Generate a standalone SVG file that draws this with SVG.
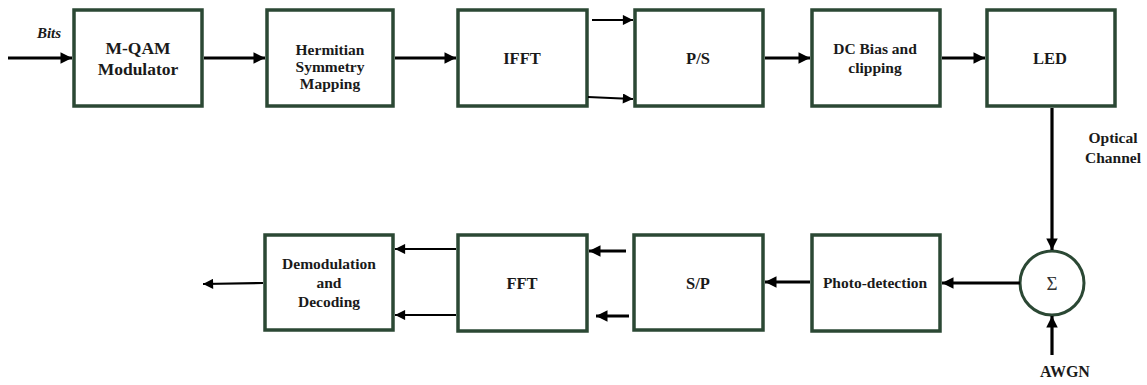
<svg xmlns="http://www.w3.org/2000/svg" width="1147" height="385" viewBox="0 0 1147 385">
  <style>
    .box { fill: #ffffff; stroke: #2b4834; stroke-width: 3.5; }
    .lbl { font-family: "Liberation Serif", "DejaVu Serif", "Noto Serif", serif; font-weight: bold; fill: #1a1a1a; text-anchor: middle; }
    .big { font-size: 17.5px; }
    .mid { font-size: 16.5px; }
    .sm { font-size: 15.5px; }
    .thick { stroke: #000; stroke-width: 3.2; fill: none; }
    .thin { stroke: #000; stroke-width: 2.2; fill: none; }
  </style>
  <defs>
    <marker id="ah" viewBox="0 0 10 10" refX="10" refY="5" markerWidth="3.6" markerHeight="3.6" markerUnits="strokeWidth" orient="auto">
      <path d="M0,0 L10,5 L0,10 z" fill="#000"/>
    </marker>
    <marker id="ahs" viewBox="0 0 10 10" refX="10" refY="5" markerWidth="5" markerHeight="4.6" markerUnits="strokeWidth" orient="auto">
      <path d="M0,0 L10,5 L0,10 z" fill="#000"/>
    </marker>
  </defs>
  <rect width="1147" height="385" fill="#ffffff"/>

  <!-- transmitter chain -->
  <g id="mqam">
    <rect class="box" x="74" y="10" width="128" height="96"/>
    <text class="lbl big" x="138" y="54">M-QAM</text>
    <text class="lbl big" x="138" y="75">Modulator</text>
  </g>
  <g id="hermitian">
    <rect class="box" x="267" y="10" width="126" height="96"/>
    <text class="lbl sm" x="330" y="55">Hermitian</text>
    <text class="lbl sm" x="330" y="72">Symmetry</text>
    <text class="lbl sm" x="330" y="89">Mapping</text>
  </g>
  <g id="ifft">
    <rect class="box" x="458" y="10" width="129" height="96"/>
    <text class="lbl mid" x="522" y="64">IFFT</text>
  </g>
  <g id="ps">
    <rect class="box" x="635" y="10" width="128" height="96"/>
    <text class="lbl mid" x="698" y="64">P/S</text>
  </g>
  <g id="dcbias">
    <rect class="box" x="812" y="10" width="128" height="96"/>
    <text class="lbl sm" x="875" y="54">DC Bias and</text>
    <text class="lbl sm" x="875" y="73">clipping</text>
  </g>
  <g id="led">
    <rect class="box" x="987" y="10" width="128" height="96"/>
    <text class="lbl mid" x="1050" y="64">LED</text>
  </g>

  <!-- channel and noise -->
  <g id="sum">
    <circle cx="1052" cy="283" r="32" fill="#ffffff" stroke="#2b4834" stroke-width="3"/>
    <text x="1052" y="290" font-family="'Liberation Serif', 'DejaVu Serif', serif" font-size="19" fill="#333" text-anchor="middle">Σ</text>
  </g>
  <g id="labels">
    <text x="49" y="38" font-family="'Liberation Serif', 'DejaVu Serif', serif" font-size="15" font-weight="bold" font-style="italic" fill="#1a1a1a" text-anchor="middle">Bits</text>
    <text class="lbl sm" x="1113" y="143">Optical</text>
    <text class="lbl sm" x="1113" y="163">Channel</text>
    <text class="lbl sm" x="1065" y="377" style="font-size:16px">AWGN</text>
  </g>

  <!-- receiver chain -->
  <g id="photodetection">
    <rect class="box" x="812" y="235" width="128" height="96"/>
    <text class="lbl sm" x="875" y="288">Photo-detection</text>
  </g>
  <g id="sp">
    <rect class="box" x="634" y="235" width="129" height="95"/>
    <text class="lbl mid" x="698" y="289">S/P</text>
  </g>
  <g id="fft">
    <rect class="box" x="458" y="235" width="129" height="96"/>
    <text class="lbl mid" x="522" y="289">FFT</text>
  </g>
  <g id="demod">
    <rect class="box" x="265" y="235" width="128" height="95"/>
    <text class="lbl sm" x="329" y="269">Demodulation</text>
    <text class="lbl sm" x="329" y="288">and</text>
    <text class="lbl sm" x="329" y="307">Decoding</text>
  </g>

  <!-- connectors -->
  <g id="connectors">
    <line class="thick" x1="8" y1="58" x2="72" y2="58" marker-end="url(#ah)"/>
    <line class="thick" x1="204" y1="58" x2="265" y2="58" marker-end="url(#ah)"/>
    <line class="thick" x1="395" y1="58" x2="456" y2="58" marker-end="url(#ah)"/>
    <line class="thin" x1="592" y1="20" x2="633" y2="20" marker-end="url(#ahs)"/>
    <line class="thin" x1="588" y1="97" x2="633" y2="99" marker-end="url(#ahs)"/>
    <line class="thick" x1="765" y1="58" x2="810" y2="58" marker-end="url(#ah)"/>
    <line class="thick" x1="942" y1="58" x2="985" y2="58" marker-end="url(#ah)"/>
    <line class="thick" x1="1052" y1="108" x2="1052" y2="250" marker-end="url(#ah)"/>
    <line class="thick" x1="1052" y1="355" x2="1052" y2="316" marker-end="url(#ah)"/>
    <line class="thick" x1="1020" y1="283" x2="942" y2="283" marker-end="url(#ah)"/>
    <line class="thick" x1="810" y1="282" x2="765" y2="282" marker-end="url(#ah)"/>
    <line class="thick" x1="626" y1="251" x2="589" y2="251" marker-end="url(#ah)"/>
    <line class="thick" x1="629" y1="316" x2="596" y2="316" marker-end="url(#ah)"/>
    <line class="thin" x1="456" y1="249" x2="395" y2="249" marker-end="url(#ahs)"/>
    <line class="thin" x1="456" y1="315" x2="395" y2="315" marker-end="url(#ahs)"/>
    <line class="thin" x1="263" y1="283" x2="203" y2="284" marker-end="url(#ahs)"/>
  </g>
</svg>
